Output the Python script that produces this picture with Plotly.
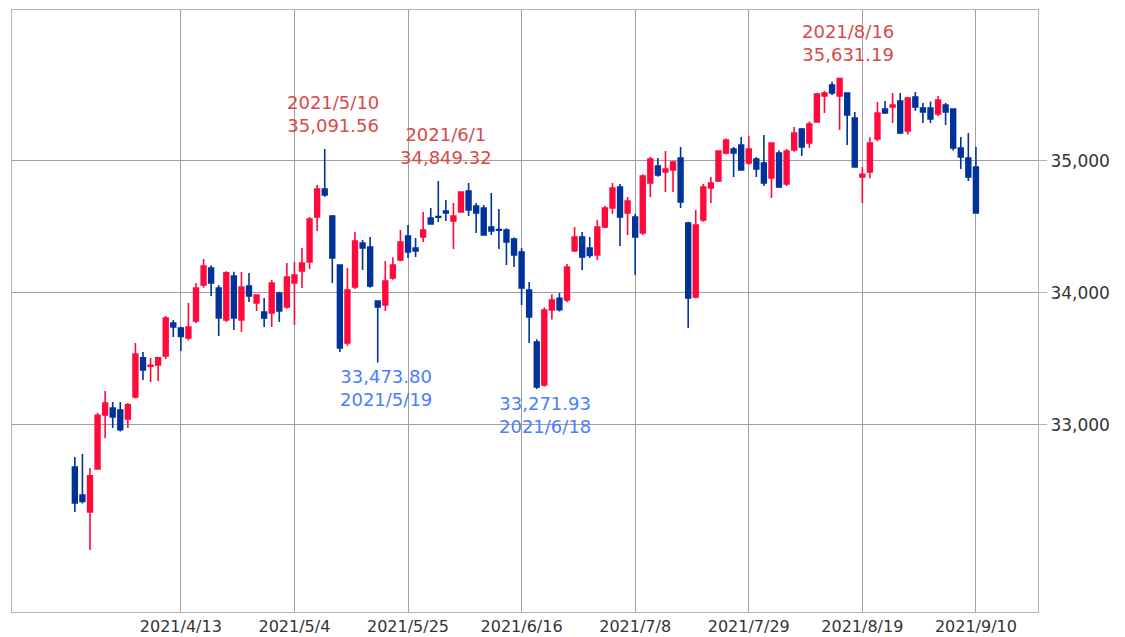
import plotly.graph_objects as go

dates = [
    "2021/3/23", "2021/3/24", "2021/3/25", "2021/3/26", "2021/3/29", "2021/3/30", "2021/3/31", "2021/4/1",
    "2021/4/5", "2021/4/6", "2021/4/7", "2021/4/8", "2021/4/9", "2021/4/12", "2021/4/13", "2021/4/14",
    "2021/4/15", "2021/4/16", "2021/4/19", "2021/4/20", "2021/4/21", "2021/4/22", "2021/4/23", "2021/4/26",
    "2021/4/27", "2021/4/28", "2021/4/29", "2021/4/30", "2021/5/3", "2021/5/4", "2021/5/5", "2021/5/6",
    "2021/5/7", "2021/5/10", "2021/5/11", "2021/5/12", "2021/5/13", "2021/5/14", "2021/5/17", "2021/5/18",
    "2021/5/19", "2021/5/20", "2021/5/21", "2021/5/24", "2021/5/25", "2021/5/26", "2021/5/27", "2021/5/28",
    "2021/6/1", "2021/6/2", "2021/6/3", "2021/6/4", "2021/6/7", "2021/6/8", "2021/6/9", "2021/6/10",
    "2021/6/11", "2021/6/14", "2021/6/15", "2021/6/16", "2021/6/17", "2021/6/18", "2021/6/21", "2021/6/22",
    "2021/6/23", "2021/6/24", "2021/6/25", "2021/6/28", "2021/6/29", "2021/6/30", "2021/7/1", "2021/7/2",
    "2021/7/6", "2021/7/7", "2021/7/8", "2021/7/9", "2021/7/12", "2021/7/13", "2021/7/14", "2021/7/15",
    "2021/7/16", "2021/7/19", "2021/7/20", "2021/7/21", "2021/7/22", "2021/7/23", "2021/7/26", "2021/7/27",
    "2021/7/28", "2021/7/29", "2021/7/30", "2021/8/2", "2021/8/3", "2021/8/4", "2021/8/5", "2021/8/6",
    "2021/8/9", "2021/8/10", "2021/8/11", "2021/8/12", "2021/8/13", "2021/8/16", "2021/8/17", "2021/8/18",
    "2021/8/19", "2021/8/20", "2021/8/23", "2021/8/24", "2021/8/25", "2021/8/26", "2021/8/27", "2021/8/30",
    "2021/8/31", "2021/9/1", "2021/9/2", "2021/9/3", "2021/9/7", "2021/9/8", "2021/9/9", "2021/9/10",
]

opens = [
    32682, 32470, 32341, 32667, 33076, 33129, 33114, 33045,
    33212, 33508, 33446, 33454, 33523, 33773, 33735, 33659,
    33788, 34061, 34189, 34038, 33795, 34129, 33795, 34053,
    33924, 33856, 33848, 34000, 33894, 34076, 34167, 34235,
    34576, 34788, 34583, 34212, 33621, 34045, 34379, 34348,
    33939, 33909, 34114, 34250, 34432, 34341, 34424, 34568,
    34580, 34621, 34545, 34614, 34773, 34659, 34644, 34500,
    34480, 34477, 34409, 34311, 34023, 33629, 33303, 33871,
    33960, 33947, 34320, 34424, 34341, 34288, 34500, 34644,
    34803, 34606, 34576, 34455, 34833, 34962, 34917, 34932,
    35023, 34530, 33970, 34553, 34795, 34848, 35061, 35091,
    35121, 34985, 35015, 34985, 34871, 35061, 34826, 35083,
    35242, 35136, 35295, 35492, 35576, 35492, 35515, 35326,
    34880, 34917, 35167, 35394, 35409, 35455, 35227, 35485,
    35401, 35401, 35356, 35424, 35394, 35098, 35023, 34955,
]

highs = [
    32758, 32780, 32674, 33090, 33258, 33174, 33174, 33167,
    33621, 33553, 33508, 33515, 33826, 33795, 33745, 33924,
    34076, 34258, 34210, 34060, 34165, 34160, 34159, 34152,
    33990, 33962, 34098, 34010, 34227, 34235, 34341, 34576,
    34818, 35091.56, 34590, 34215, 34189, 34462, 34402, 34424,
    33945, 34242, 34270, 34477, 34515, 34417, 34614, 34644,
    34849.32, 34705, 34682, 34770, 34833, 34682, 34667, 34758,
    34636, 34490, 34420, 34341, 34083, 33650, 33890, 33990,
    34000, 34220, 34500, 34462, 34424, 34553, 34660, 34833,
    34826, 34727, 34600, 34900, 35030, 35023, 35076, 35000,
    35106, 34540, 34629, 34826, 34879, 35082, 35171, 35106,
    35182, 35189, 35030, 35197, 35140, 35080, 35090, 35258,
    35250, 35300, 35515, 35530, 35600, 35631.19, 35520, 35371,
    34955, 35180, 35447, 35455, 35515, 35515, 35485, 35523,
    35440, 35450, 35492, 35440, 35400, 35182, 35212, 35106,
]

lows = [
    32341, 32405, 32053, 32660, 32900, 32977, 32950, 32977,
    33200, 33341, 33326, 33333, 33500, 33667, 33560, 33640,
    33770, 34040, 33977, 33674, 33780, 33720, 33705, 33932,
    33864, 33742, 33742, 33780, 33880, 33758, 34038, 34182,
    34470, 34730, 34076, 33553, 33600, 34030, 34174, 34040,
    33473.80, 33864, 34100, 34240, 34265, 34273, 34386, 34523,
    34538, 34545, 34333, 34610, 34583, 34455, 34439, 34439,
    34333, 34212, 34197, 33909, 33621, 33271.93, 33290, 33800,
    33860, 33930, 34310, 34174, 34265, 34250, 34490, 34600,
    34356, 34439, 34136, 34440, 34727, 34880, 34765, 34765,
    34644, 33735, 33960, 34540, 34682, 34840, 35050, 34879,
    34932, 34970, 34879, 34811, 34720, 34795, 34810, 35070,
    35038, 35100, 35290, 35364, 35500, 35235, 35121, 34950,
    34682, 34870, 35150, 35356, 35288, 35205, 35200, 35380,
    35288, 35288, 35340, 35273, 35080, 34939, 34848, 34600,
]

closes = [
    32409, 32420, 32614, 33073, 33167, 33061, 32965, 33152,
    33538, 33417, 33452, 33508, 33811, 33742, 33670, 33742,
    34038, 34205, 34076, 33811, 34152, 33811, 34045, 33977,
    33985, 33811, 34076, 33864, 34121, 34136, 34227, 34561,
    34788, 34742, 34265, 33583, 34023, 34394, 34341, 34053,
    33894, 34091, 34212, 34386, 34311, 34318, 34477, 34523,
    34575, 34606, 34583, 34765, 34629, 34606, 34439, 34470,
    34476, 34386, 34288, 34038, 33818, 33288, 33871, 33947,
    33874, 34197, 34424, 34273, 34285, 34500, 34644, 34795,
    34576, 34697, 34424, 34886, 35015, 34894, 34939, 34992,
    34689, 33962, 34515, 34803, 34833, 35076, 35159, 35061,
    34932, 35091, 34939, 34833, 35136, 34803, 35076, 35212,
    35106, 35280, 35508, 35515, 35515, 35625, 35348, 34955,
    34900, 35136, 35364, 35364, 35424, 35212, 35477, 35409,
    35371, 35318, 35462, 35371, 35098, 35030, 34879, 34606,
]

y_ticks = [33000, 34000, 35000]
y_tick_text = ["33,000", "34,000", "35,000"]

UP = "#ff0a3c"
DOWN = "#003399"
NOTE_RED = "#d84a4a"
NOTE_BLUE = "#4d7cff"
FONT = "DejaVu Sans"

fig = go.Figure(
    go.Candlestick(
        x=dates, open=opens, high=highs, low=lows, close=closes,
        increasing=dict(line=dict(color=UP, width=1.6), fillcolor=UP),
        decreasing=dict(line=dict(color=DOWN, width=1.6), fillcolor=DOWN),
        whiskerwidth=0,
    )
)

# annotate extreme highs / lows
i_h1 = dates.index("2021/5/10")
i_h2 = dates.index("2021/6/1")
i_h3 = dates.index("2021/8/16")
i_l1 = dates.index("2021/5/19")
i_l2 = dates.index("2021/6/18")

for i in (i_h1, i_h2, i_h3):
    fig.add_annotation(
        x=dates[i], y=highs[i], text=f"{dates[i]}<br>{highs[i]:,.2f}",
        showarrow=False, xanchor="center", yanchor="bottom", xshift=8, yshift=11,
        align="center", font=dict(color=NOTE_RED, size=18, family=FONT),
    )
for i in (i_l1, i_l2):
    fig.add_annotation(
        x=dates[i], y=lows[i], text=f"{lows[i]:,.2f}<br>{dates[i]}",
        showarrow=False, xanchor="center", yanchor="top", xshift=8, yshift=-2,
        align="center", font=dict(color=NOTE_BLUE, size=18, family=FONT),
    )

x_tick_vals = dates[14::15]

fig.update_layout(
    width=1125, height=637,
    margin=dict(l=12, r=87, t=10, b=25),
    template="none",
    paper_bgcolor="white", plot_bgcolor="white",
    showlegend=False,
    boxgap=0.1,
    font=dict(family=FONT, size=16, color="#333333"),
    xaxis=dict(
        type="category", rangeslider=dict(visible=False),
        range=[-8.3, 127.2],
        tickmode="array", tickvals=x_tick_vals, ticktext=x_tick_vals,
        tickfont=dict(size=16),
        showgrid=True, gridcolor="#a0a0a0", gridwidth=1,
        showline=True, linecolor="#b4b4b4", linewidth=1, mirror=True,
        ticks="", zeroline=False,
    ),
    yaxis=dict(
        side="right", range=[31583, 36144],
        tickmode="array", tickvals=y_ticks, ticktext=y_tick_text,
        tickfont=dict(size=17),
        showgrid=True, gridcolor="#a0a0a0", gridwidth=1,
        showline=True, linecolor="#b4b4b4", linewidth=1, mirror=True,
        ticks="outside", ticklen=8, tickcolor="#b4b4b4",
        zeroline=False,
    ),
)

fig.write_html(
    "out.html",
    config={"displayModeBar": False},
    post_script="document.body.style.margin='0';",
)
